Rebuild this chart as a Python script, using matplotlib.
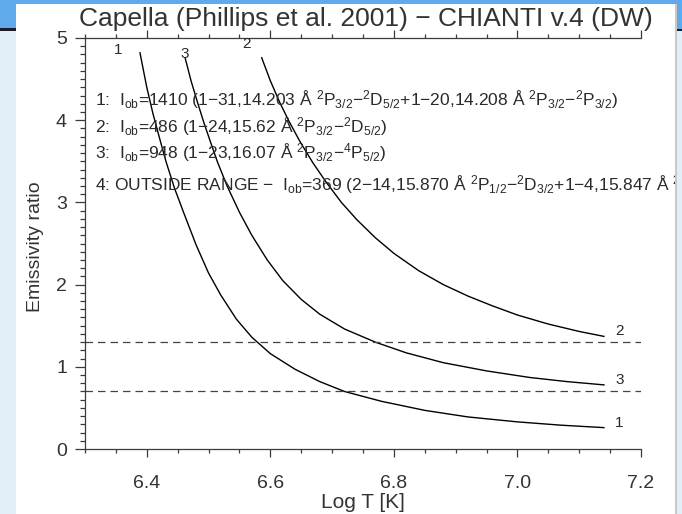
import matplotlib
matplotlib.use("Agg")
import matplotlib.pyplot as plt
from matplotlib.patches import Rectangle
from matplotlib.ticker import MultipleLocator, FormatStrFormatter

plt.rcParams['font.family'] = ['Liberation Sans', 'DejaVu Sans']
plt.rcParams['mathtext.fontset'] = 'custom'
plt.rcParams['mathtext.rm'] = 'Liberation Sans'
plt.rcParams['mathtext.it'] = 'Liberation Sans:italic'
plt.rcParams['mathtext.bf'] = 'Liberation Sans:bold'

# values
logt_1 = [6.389, 6.400, 6.410, 6.420, 6.431, 6.445, 6.46, 6.48, 6.50, 6.52, 6.545, 6.57,
          6.60, 6.64, 6.68, 6.72, 6.78, 6.85, 6.92, 7.00, 7.07, 7.14]
ratio_1 = [4.82, 4.40, 4.08, 3.80, 3.50, 3.17, 2.87, 2.48, 2.14, 1.87, 1.58, 1.36,
           1.16, 0.97, 0.82, 0.70, 0.58, 0.47, 0.39, 0.33, 0.29, 0.26]

logt_3 = [6.462, 6.472, 6.482, 6.492, 6.502, 6.514, 6.53, 6.55, 6.57, 6.595, 6.62, 6.65,
          6.68, 6.72, 6.77, 6.82, 6.88, 6.95, 7.02, 7.08, 7.14]
ratio_3 = [4.76, 4.47, 4.22, 3.98, 3.76, 3.50, 3.20, 2.88, 2.60, 2.30, 2.05, 1.82,
           1.64, 1.46, 1.30, 1.17, 1.05, 0.95, 0.87, 0.82, 0.78]

logt_2 = [6.586, 6.600, 6.615, 6.630, 6.648, 6.669, 6.69, 6.715, 6.74, 6.77, 6.80, 6.84,
          6.88, 6.92, 6.96, 7.00, 7.05, 7.10, 7.14]
ratio_2 = [4.76, 4.48, 4.22, 3.99, 3.74, 3.48, 3.25, 3.00, 2.79, 2.57, 2.38, 2.17,
           2.00, 1.86, 1.74, 1.63, 1.52, 1.43, 1.37]

ratio_obs = [1.3, 0.7]  # horizontal dashed lines

top_labels = ["1", "3", "2"]
top_label_x = [6.353, 6.462, 6.562]
top_label_y = [4.86, 4.81, 4.93]
end_labels = ["2", "3", "1"]
end_label_y = [1.43, 0.84, 0.32]

info_lines = [
    r"1:  I$_{\rm ob}$=1410 (1−31,14.203 Å $^2$P$_{3/2}$−$^2$D$_{5/2}$+1−20,14.208 Å $^2$P$_{3/2}$−$^2$P$_{3/2}$)",
    r"2:  I$_{\rm ob}$=486 (1−24,15.62 Å $^2$P$_{3/2}$−$^2$D$_{5/2}$)",
    r"3:  I$_{\rm ob}$=948 (1−23,16.07 Å $^2$P$_{3/2}$−$^4$P$_{5/2}$)",
    r"4: OUTSIDE RANGE −  I$_{\rm ob}$=369 (2−14,15.870 Å $^2$P$_{1/2}$−$^2$D$_{3/2}$+1−4,15.847 Å $^2$P$_{3/2}$−$^2$D$_{5/2}$)",
]
info_y = [4.25, 3.92, 3.61, 3.22]

W, H = 682, 514
fig = plt.figure(figsize=(W / 100, H / 100), dpi=100, facecolor='white')
ax = fig.add_axes([85 / W, 1 - 449 / H, (641 - 85) / W, (449 - 38) / H])

axc = '#3a3a3a'
txt = '#2a2a2a'
for x, y in [(logt_1, ratio_1), (logt_3, ratio_3), (logt_2, ratio_2)]:
    ax.plot(x, y, color='black', lw=1.0)
for r in ratio_obs:
    ax.axhline(r, color='#444444', lw=0.9, linestyle=(0, (6, 4)))

for lab, x, y in zip(top_labels, top_label_x, top_label_y):
    ax.text(x, y, lab, fontsize=11, color=txt, ha='center', va='center')
for lab, y in zip(end_labels, end_label_y):
    ax.text(7.158, y, lab, fontsize=11, color=txt, ha='left', va='center')
for s, y in zip(info_lines, info_y):
    ax.text(6.316, y, s, fontsize=12.5, color=txt, ha='left', va='center', clip_on=False)

ax.set_xlim(6.3, 7.2)
ax.set_ylim(0, 5)
ax.xaxis.set_major_locator(MultipleLocator(0.2))
ax.xaxis.set_minor_locator(MultipleLocator(0.05))
ax.yaxis.set_major_locator(MultipleLocator(1))
ax.yaxis.set_minor_locator(MultipleLocator(0.1))
ax.xaxis.set_major_formatter(FormatStrFormatter('%.1f'))
ax.tick_params(which='both', direction='out', colors=axc, labelcolor='#333333',
               top=True, right=False, labelsize=14, width=0.9)
ax.tick_params(axis='x', which='major', length=6, pad=13)
ax.tick_params(axis='x', which='minor', length=3)
ax.tick_params(axis='y', which='major', length=7, pad=6)
ax.tick_params(axis='y', which='minor', length=3.5)
ax.spines['right'].set_visible(False)
for s in ['left', 'top', 'bottom']:
    ax.spines[s].set_color(axc)
    ax.spines[s].set_linewidth(0.9)

fig.text(363 / W, 1 - 503 / H, "Log T [K]", fontsize=15, color='#333333',
         ha='center', va='center')
fig.text(35 / W, 1 - 247 / H, "Emissivity ratio", rotation=90, fontsize=14,
         color='#333333', ha='center', va='center')
fig.text(366 / W, 1 - 19 / H, "Capella (Phillips et al. 2001) − CHIANTI v.4 (DW)",
         fontsize=19, color='#333333', ha='center', va='center')

# page frame around the plot image
blue = '#60a9ea'
light = '#e1eef7'


def rect(x0, y0, x1, y1, c, z=5):
    fig.add_artist(Rectangle((x0 / W, 1 - y1 / H), (x1 - x0) / W, (y1 - y0) / H,
                             transform=fig.transFigure, facecolor=c, edgecolor='none', zorder=z))


rect(0, 0, W, 4, blue)
rect(0, 0, 16, 28, blue)
rect(0, 28, 16, 31, '#1c1c28')
rect(0, 31, 16, H, light)
rect(675, 4, 677, H, '#c8c8c8')
rect(677, 0, W, 29, blue)
rect(677, 29, W, 31, '#1c1c28')
rect(677, 31, W, H, light)

fig.savefig("out.png", dpi=100, facecolor='white')
